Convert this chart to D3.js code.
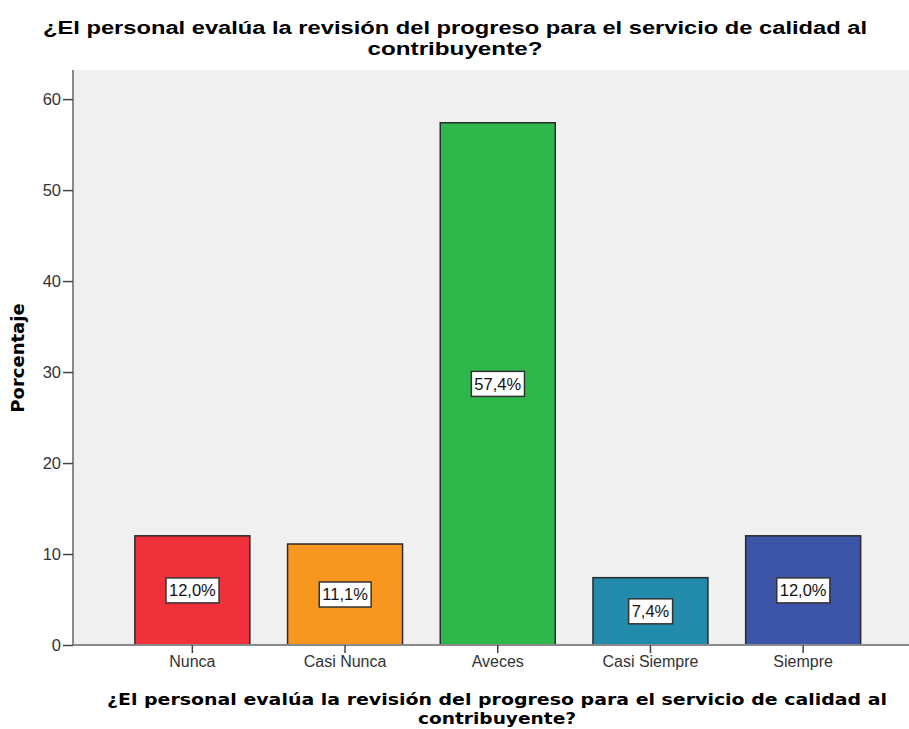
<!DOCTYPE html>
<html>
<head>
<meta charset="utf-8">
<script src="https://cdn.jsdelivr.net/npm/d3@7"></script>
<style>
  html, body { margin: 0; padding: 0; background: #fff; }
  svg { display: block; }
</style>
</head>
<body>
<svg id="chart" width="909" height="729"></svg>
<script>
// Survey responses (percent of staff)
const categories = ["Nunca", "Casi Nunca", "Aveces", "Casi Siempre", "Siempre"];
const percentages = [12.0, 11.1, 57.4, 7.4, 12.0];
const valueLabels = ["12,0%", "11,1%", "57,4%", "7,4%", "12,0%"];
const barColors = ["#ef313b", "#f8971f", "#2eb84b", "#228aaa", "#3c55a8"];
const yTicks = [0, 10, 20, 30, 40, 50, 60];
const titleLines = ["¿El personal evalúa la revisión del progreso para el servicio de calidad al", "contribuyente?"];
const yTitle = "Porcentaje";

const svg = d3.select("#chart");
const W = 909, H = 729;
const plot = { left: 73, top: 70, right: 922, bottom: 645 };
const sans = "Liberation Sans, Arial, sans-serif";

// plot background
svg.append("rect")
  .attr("x", plot.left).attr("y", plot.top)
  .attr("width", plot.right - plot.left).attr("height", plot.bottom - plot.top)
  .attr("fill", "#f0f0f0");

const y = d3.scaleLinear().domain([0, 63.2]).range([plot.bottom, plot.top]);
const x = d3.scaleBand().domain(categories)
  .range([116, 879.5]).paddingInner(0.247).paddingOuter(0.1235);

// bars
svg.append("g").selectAll("rect")
  .data(categories)
  .join("rect")
  .attr("x", d => x(d))
  .attr("y", (d, i) => y(percentages[i]))
  .attr("width", x.bandwidth())
  .attr("height", (d, i) => y(0) - y(percentages[i]))
  .attr("fill", (d, i) => barColors[i])
  .attr("stroke", "#2b2b2b")
  .attr("stroke-width", 1.5);

// y axis
const yAxis = svg.append("g")
  .attr("transform", `translate(${plot.left},0)`)
  .call(d3.axisLeft(y).tickValues(yTicks).tickSize(10).tickPadding(2).tickFormat(d3.format("d")));
yAxis.select(".domain").attr("stroke", "#8a8a8a").attr("stroke-width", 2)
  .attr("d", `M0,${plot.top}V${plot.bottom}`);
yAxis.selectAll(".tick line").attr("stroke", "#444").attr("stroke-width", 1.5);
yAxis.selectAll(".tick text")
  .attr("font-family", sans).attr("font-size", 16.5).attr("fill", "#333");

// x axis
const xAxis = svg.append("g")
  .attr("transform", `translate(0,${plot.bottom})`)
  .call(d3.axisBottom(x).tickSize(8).tickPadding(3));
xAxis.select(".domain").attr("stroke", "#8a8a8a").attr("stroke-width", 2)
  .attr("d", `M${plot.left},0H${W}`);
xAxis.selectAll(".tick line").attr("stroke", "#444").attr("stroke-width", 1.5);
xAxis.selectAll(".tick text")
  .attr("font-family", sans).attr("font-size", 16).attr("fill", "#333");

// value labels in boxes at mid-height of each bar
const lab = svg.append("g").selectAll("g")
  .data(categories)
  .join("g")
  .attr("transform", (d, i) => `translate(${x(d) + x.bandwidth() / 2},${y(percentages[i] / 2)})`);
lab.append("text")
  .attr("text-anchor", "middle").attr("dy", "0.36em")
  .attr("font-family", sans)
  .attr("font-size", 16.5).attr("fill", "#111")
  .text((d, i) => valueLabels[i]);
lab.each(function () {
  const g = d3.select(this);
  const bb = g.select("text").node().getBBox();
  g.insert("rect", "text")
    .attr("x", bb.x - 3).attr("y", -12.5)
    .attr("width", bb.width + 6).attr("height", 25)
    .attr("fill", "#fff").attr("stroke", "#333").attr("stroke-width", 1.5);
});

// chart title
const titleWidths = [824, 175];
svg.append("g").selectAll("text").data(titleLines).join("text")
  .attr("text-anchor", "middle")
  .attr("font-family", sans)
  .attr("font-weight", "bold").attr("font-size", 18).attr("fill", "#000")
  .attr("x", 455).attr("y", (d, i) => 34 + i * 20.5)
  .attr("textLength", (d, i) => titleWidths[i])
  .attr("lengthAdjust", "spacingAndGlyphs")
  .text(d => d);

// x axis title
const xTitleWidths = [780, 158];
svg.append("g").selectAll("text").data(titleLines).join("text")
  .attr("text-anchor", "middle")
  .attr("font-family", "DejaVu Sans, Verdana, sans-serif")
  .attr("font-weight", "bold").attr("font-size", 16).attr("fill", "#000")
  .attr("x", 497).attr("y", (d, i) => 705 + i * 19)
  .attr("textLength", (d, i) => xTitleWidths[i])
  .attr("lengthAdjust", "spacingAndGlyphs")
  .text(d => d);

// y axis title
svg.append("text")
  .attr("transform", "translate(24,358) rotate(-90)")
  .attr("text-anchor", "middle")
  .attr("font-family", "DejaVu Sans, Verdana, sans-serif")
  .attr("font-weight", "bold").attr("font-size", 18).attr("fill", "#000")
  .text(yTitle);
</script>
</body>
</html>
